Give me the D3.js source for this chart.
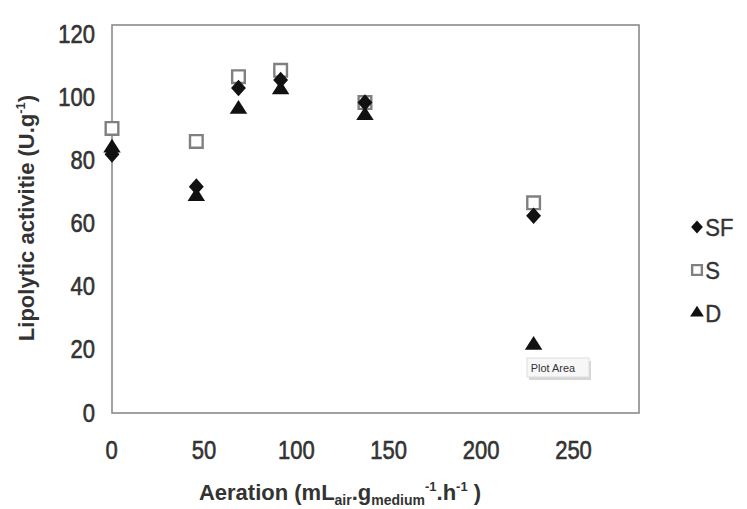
<!DOCTYPE html>
<html>
<head>
<meta charset="utf-8">
<script src="https://cdn.jsdelivr.net/npm/d3@7"></script>
<style>
body{margin:0;background:#fff;}
text{font-family:"Liberation Sans",Arial,sans-serif;fill:#333;}
</style>
</head>
<body>
<div id="chart"></div>
<script>
// aeration levels (mL air / g medium / h)
var aeration=[0,40,60,80,120,200];
var seriesNames=['SF','S','D'];
var valuesSF=[80,70,100.5,103,96,61];
var valuesS=[88,84,104,106,96,65];
var valuesD=[82,67,94,100,92,21];
var xTicks=[0,50,100,150,200,250];
var yTicks=[0,20,40,60,80,100,120];

var W=747,H=509;
var plot={left:112,top:25,right:639,bottom:413};

var svg=d3.select('#chart').append('svg')
    .attr('width',W)
    .attr('height',H);

var x=d3.scaleLinear().domain([0,250]).range([plot.left,plot.right]);
var y=d3.scaleLinear().domain([0,120]).range([plot.bottom,plot.top]);
// the tick labels in the picture sit a bit off the plot frame
var xLab=d3.scaleLinear().domain([0,250]).range([111,573]);
var yLab=d3.scaleLinear().domain([0,120]).range([413,34]);

svg.append('rect')
    .attr('x',plot.left)
    .attr('y',plot.top)
    .attr('width',plot.right-plot.left)
    .attr('height',plot.bottom-plot.top)
    .attr('fill','none')
    .attr('stroke','#8a8a8a')
    .attr('stroke-width',1.6);

var xAxis=svg.append('g')
    .attr('transform','translate(0,'+(plot.bottom+28)+')')
    .call(d3.axisBottom(xLab).tickValues(xTicks).tickSize(0).tickPadding(0));
var yAxis=svg.append('g')
    .attr('transform','translate(95,0)')
    .call(d3.axisLeft(yLab).tickValues(yTicks).tickSize(0).tickPadding(0));
[xAxis,yAxis].forEach(function(g){
    g.select('.domain').remove();
    g.selectAll('text')
        .attr('font-family','"Liberation Sans",Arial,sans-serif')
        .attr('font-size',25)
        .attr('fill','#333')
        .attr('stroke','#333')
        .attr('stroke-width',0.6)
        .attr('transform','scale(0.88,1)');
});
xAxis.selectAll('text').attr('dy','0.71em');

// axis titles
var xt=svg.append('text')
    .attr('x',340)
    .attr('y',500)
    .attr('text-anchor','middle')
    .attr('font-size',22)
    .attr('font-weight','bold');
xt.append('tspan').text('Aeration (mL');
xt.append('tspan').attr('font-size',14).attr('dy',5).text('air');
xt.append('tspan').attr('dy',-5).text('.g');
xt.append('tspan').attr('font-size',14).attr('dy',5).text('medium');
xt.append('tspan').attr('font-size',13).attr('dy',-14).text('-1');
xt.append('tspan').attr('dy',9).text('.h');
xt.append('tspan').attr('font-size',13).attr('dy',-9).text('-1');
xt.append('tspan').attr('dy',9).text(' )');

var yt=svg.append('text')
    .attr('transform','translate(34,218) rotate(-90)')
    .attr('text-anchor','middle')
    .attr('font-size',22)
    .attr('font-weight','bold');
yt.append('tspan').text('Lipolytic activitie (U.g');
yt.append('tspan').attr('font-size',13).attr('dy',-9).text('-1');
yt.append('tspan').attr('dy',9).text(')');

var symbols={SF:d3.symbolDiamond,S:d3.symbolSquare,D:d3.symbolTriangle};
var sizes={SF:80,S:160,D:120};
var stretch={SF:' scale(1.55,1)',S:'',D:' scale(1.05,0.95)'};
function styleMark(sel,name){
    if(name==='S'){
        sel.attr('fill','#fff').attr('stroke','#808080').attr('stroke-width',2.4);
    }else{
        sel.attr('fill','#111');
    }
}

var series=[
    {name:'S',values:valuesS},
    {name:'D',values:valuesD},
    {name:'SF',values:valuesSF}
];
series.forEach(function(s){
    var pts=aeration.map(function(a,i){return {x:a,y:s.values[i]};});
    var g=svg.append('g').attr('class','series-'+s.name);
    g.selectAll('path')
        .data(pts)
        .enter()
        .append('path')
        .attr('d',d3.symbol().type(symbols[s.name]).size(sizes[s.name]))
        .attr('transform',function(d){
            return 'translate('+x(d.x)+','+y(d.y)+')'+stretch[s.name];
        })
        .call(styleMark,s.name);
});

// legend
var legend=svg.append('g').attr('transform','translate(697,227)');
seriesNames.forEach(function(n,i){
    var row=legend.append('g').attr('transform','translate(0,'+(i*43)+')');
    row.append('path')
        .attr('d',d3.symbol().type(symbols[n]).size(n==='S'?95:(n==='SF'?50:75)))
        .attr('transform',stretch[n])
        .call(styleMark,n);
    row.append('text')
        .attr('x',9)
        .attr('dy','0.36em')
        .attr('font-size',24)
        .attr('stroke','#333')
        .attr('stroke-width',0.4)
        .attr('transform','scale(0.92,1)')
        .text(n);
});

// "Plot Area" hover label seen in the picture
var tip=svg.append('g').attr('transform','translate(527,358)');
tip.append('rect')
    .attr('x',2).attr('y',3)
    .attr('width',62).attr('height',19)
    .attr('fill','#bbb')
    .attr('opacity',0.6);
tip.append('rect')
    .attr('width',62).attr('height',19)
    .attr('fill','#f7f7f7')
    .attr('stroke','#ddd');
tip.append('text')
    .attr('x',4).attr('y',14)
    .attr('font-size',11.5)
    .attr('fill','#666')
    .attr('transform','scale(0.95,1)')
    .text('Plot Area');
</script>
</body>
</html>
